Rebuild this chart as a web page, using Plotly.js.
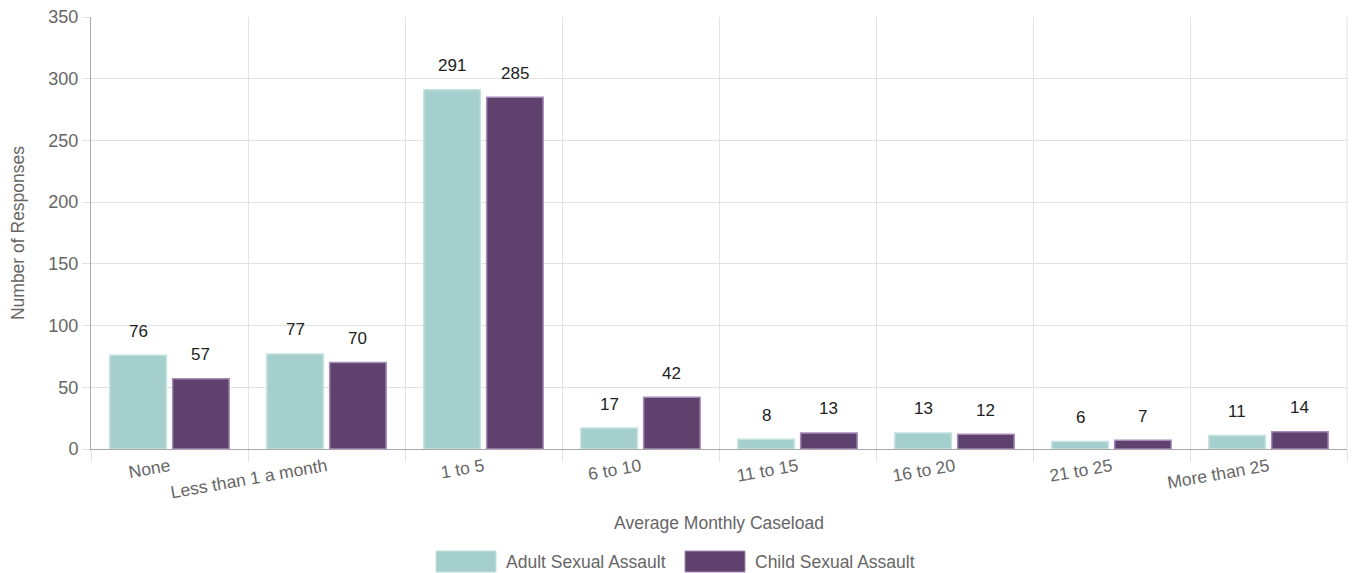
<!DOCTYPE html>
<html>
<head>
<meta charset="utf-8">
<script src="https://cdn.plot.ly/plotly-3.0.1.min.js"></script>
<style>
  html, body { margin: 0; padding: 0; background: #fff; }
  #chart { width: 1353px; height: 573px; }
</style>
</head>
<body>
<div id="chart"></div>
<script>
var categories = ['None', 'Less than 1 a month', '1 to 5', '6 to 10', '11 to 15', '16 to 20', '21 to 25', 'More than 25'];
var adultValues = [76, 77, 291, 17, 8, 13, 6, 11];
var childValues = [57, 70, 285, 42, 13, 12, 7, 14];
var seriesNames = ['Adult Sexual Assault', 'Child Sexual Assault'];
var fillColors = ['#a5cfcc', '#5e416c'];
var lineColors = ['#c4e2df', '#a58cb8'];

var font = 'Liberation Sans, Arial, Helvetica, sans-serif';

var data = [adultValues, childValues].map(function(vals, k) {
    return {
        x: categories,
        y: vals,
        name: seriesNames[k],
        type: 'bar',
        marker: { color: fillColors[k], line: { color: lineColors[k], width: 1.5 } },
        hoverinfo: 'x+y+name',
        showlegend: false
    };
});

// value labels above each bar (chartjs-datalabels style)
var annotations = [];
[adultValues, childValues].forEach(function(vals, k) {
    vals.forEach(function(v, i) {
        annotations.push({
            x: i + (k === 0 ? -0.2 : 0.2),
            y: v,
            xref: 'x', yref: 'y',
            text: String(v),
            showarrow: false,
            yanchor: 'middle',
            yshift: 24,
            font: { family: font, size: 17, color: '#222' }
        });
    });
});

// legend drawn like chart.js boxes
var shapes = [];
var legendX = [436, 685];
seriesNames.forEach(function(name, k) {
    shapes.push({
        type: 'rect', xref: 'paper', yref: 'paper',
        x0: (legendX[k] - 91) / 1256, x1: (legendX[k] + 60 - 91) / 1256,
        y0: -102 / 432, y1: -123 / 432,
        fillcolor: fillColors[k],
        line: { color: lineColors[k], width: 1 }
    });
    annotations.push({
        xref: 'paper', yref: 'paper',
        x: (legendX[k] + 68 - 91) / 1256, y: -112.5 / 432,
        xanchor: 'left', yanchor: 'middle',
        text: name, showarrow: false,
        font: { family: font, size: 17.5, color: '#666' }
    });
});

var layout = {
    width: 1353,
    height: 573,
    margin: { l: 91, r: 6, t: 17, b: 124 },
    paper_bgcolor: '#fff',
    plot_bgcolor: '#fff',
    font: { family: font, size: 17, color: '#666' },
    barmode: 'group',
    bargap: 0.2,
    bargroupgap: 0.1,
    showlegend: false,
    xaxis: {
        type: 'category',
        tickson: 'boundaries',
        ticks: 'outside',
        ticklen: 12,
        tickcolor: '#e2e2e2',
        tickangle: -10,
        showgrid: true,
        gridcolor: '#e2e2e2',
        showline: true,
        linecolor: '#a8a8a8',
        linewidth: 1,
        mirror: false,
        tickfont: { family: font, size: 17.5, color: '#666' },
        title: { text: 'Average Monthly Caseload', standoff: 15, font: { family: font, size: 17.5, color: '#666' } },
        automargin: false
    },
    yaxis: {
        range: [0, 350],
        dtick: 50,
        ticks: 'outside',
        ticklen: 8,
        tickcolor: '#e2e2e2',
        showgrid: true,
        gridcolor: '#e2e2e2',
        zeroline: false,
        showline: true,
        linecolor: '#a8a8a8',
        tickfont: { family: font, size: 18, color: '#666' },
        title: { text: 'Number of Responses', standoff: 19, font: { family: font, size: 17.5, color: '#666' } },
        automargin: false
    },
    shapes: shapes.concat([{
        type: 'line', xref: 'paper', yref: 'paper',
        x0: 1, x1: 1, y0: 0, y1: 1,
        line: { color: '#e2e2e2', width: 1 }
    }]),
    annotations: annotations
};

Plotly.newPlot('chart', data, layout, { displayModeBar: false });
</script>
</body>
</html>
